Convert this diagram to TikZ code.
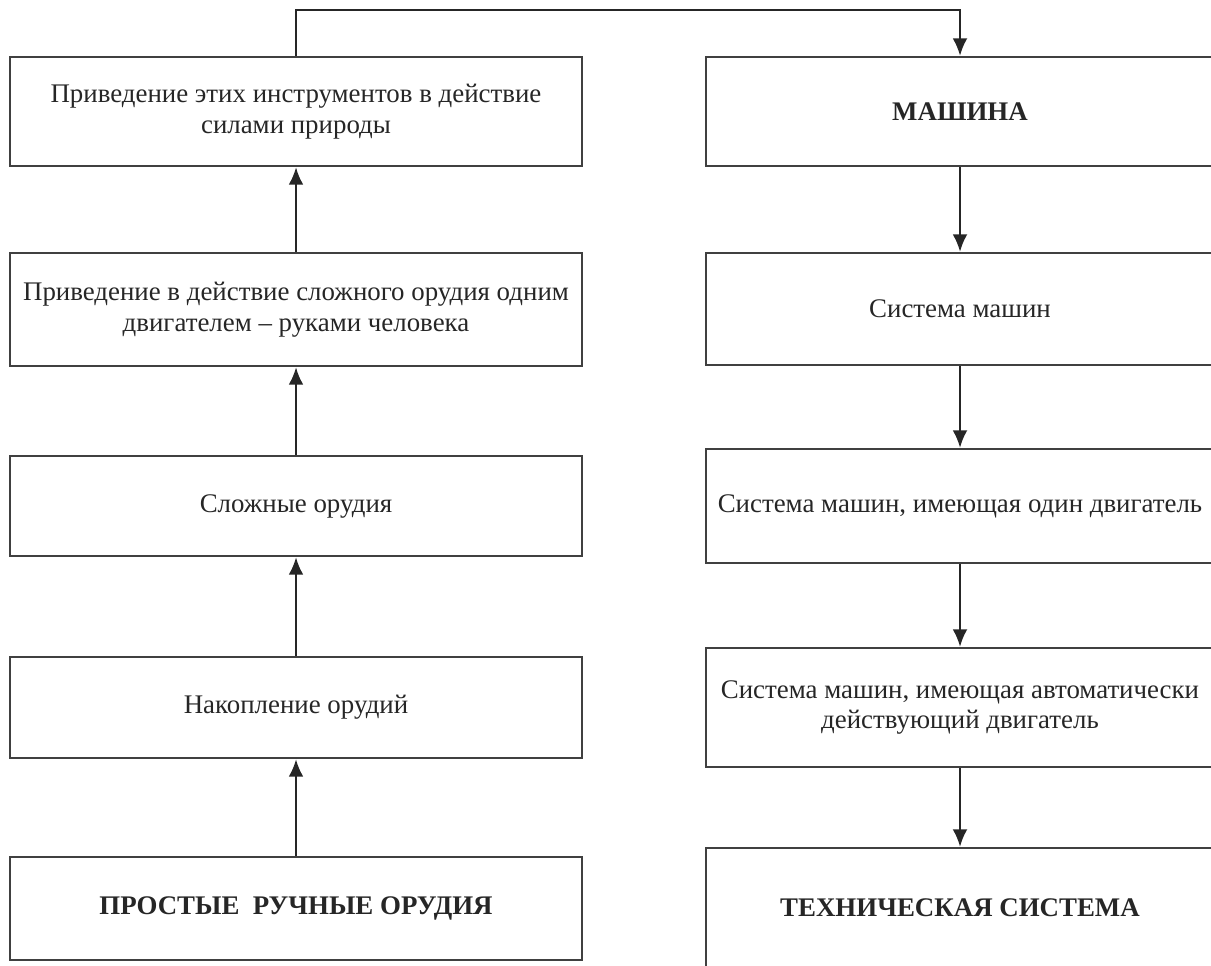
\documentclass[tikz,border=0pt]{standalone}
\usepackage{fontspec}
\setmainfont{Liberation Serif}
\usetikzlibrary{arrows.meta}

\begin{document}
\begin{tikzpicture}[x=0.02cm, y=-0.02cm,
    every node/.style={font=\fontsize{15.3}{17.6}\selectfont, text=black!85},
    stage/.style={draw=black!75, line width=1.3pt, align=center, inner sep=0pt, minimum width=11.44cm},
    machine/.style={draw=black!75, line width=1.3pt, align=center, inner sep=0pt, minimum width=10.16cm},
    link/.style={draw=black!85, line width=1.4pt, -{Latex[length=10pt,width=8.5pt]}}]
    \useasboundingbox (0,0) rectangle (1211,965);
    \clip (0,0) rectangle (1211,965);
    % left column: from hand tools upwards
    \node[stage, minimum height=2.18cm] (nature) at (296,111.5) {Приведение этих инструментов в действие\\силами природы};
    \node[stage, minimum height=2.26cm] (onemotor) at (296,309.5) {Приведение в действие сложного орудия одним\\двигателем – руками человека};
    \node[stage, minimum height=2.0cm] (complex) at (296,506) {Сложные орудия};
    \node[stage, minimum height=2.02cm] (accum) at (296,707.5) {Накопление орудий};
    \node[stage, minimum height=2.06cm] (simple) at (296,908.5) {\textbf{ПРОСТЫЕ\ \ РУЧНЫЕ ОРУДИЯ}};
    % right column: from machine downwards
    \node[machine, minimum height=2.18cm] (machine) at (960,111.5) {\textbf{МАШИНА}};
    \node[machine, minimum height=2.24cm] (msys) at (960,309) {Система машин};
    \node[machine, minimum height=2.28cm] (msysone) at (960,506) {Система машин, имеющая один двигатель};
    \node[machine, minimum height=2.38cm] (msysauto) at (960,707.5) {Система машин, имеющая автоматически\\действующий двигатель};
    \node[machine, minimum height=2.4cm] (techsys) at (960,908) {\textbf{ТЕХНИЧЕСКАЯ СИСТЕМА}};
    % connectors
    \draw[link] (simple) -- (accum);
    \draw[link] (accum) -- (complex);
    \draw[link] (complex) -- (onemotor);
    \draw[link] (onemotor) -- (nature);
    \draw[link] (nature.north) -- ++(0,-46) -| (machine.north);
    \draw[link] (machine) -- (msys);
    \draw[link] (msys) -- (msysone);
    \draw[link] (msysone) -- (msysauto);
    \draw[link] (msysauto) -- (techsys);
\end{tikzpicture}
\end{document}
